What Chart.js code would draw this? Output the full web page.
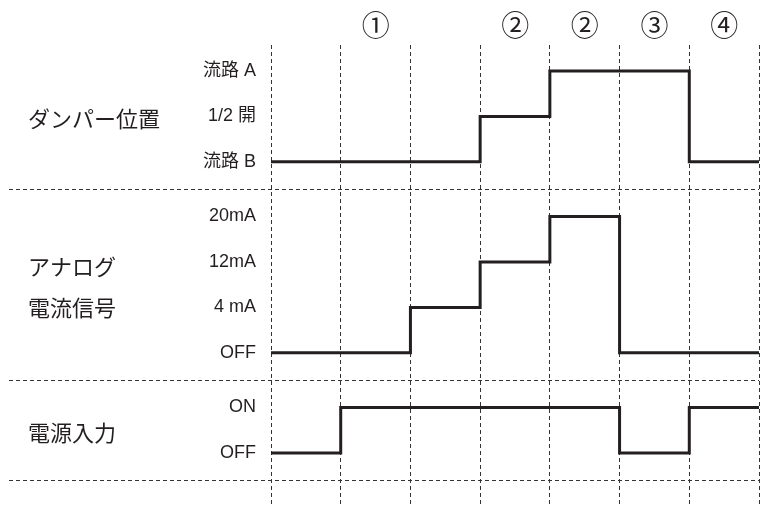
<!DOCTYPE html>
<html>
<head>
<meta charset="utf-8">
<script src="https://cdn.jsdelivr.net/npm/chart.js@4.4.1/dist/chart.umd.min.js"></script>
<style>
  html, body { margin: 0; padding: 0; background: #fff; }
  .chart-container { width: 760px; height: 507px; position: relative; }
</style>
</head>
<body>
<div class="chart-container"><canvas id="timing"></canvas></div>
<script>
// phase markers over the 7 time slots
const phaseLabels = ['', '①', '', '②', '②', '③', '④'];

// level names, bottom to top
const damperTicks = ['流路 B', '1/2 開', '流路 A'];
const currentTicks = ['OFF', '4 mA', '12mA', '20mA'];
const powerTicks = ['OFF', 'ON'];

// level index held in each time slot
const damperLevels = [0, 0, 0, 1, 2, 2, 0];
const currentLevels = [0, 0, 1, 2, 3, 0, 0];
const powerLevels = [0, 1, 1, 1, 1, 0, 1];

const rowTitles = [['ダンパー位置'], ['アナログ', '電流信号'], ['電源入力']];

// layout: where each row sits on the shared y scale
const rows = [
  { title: rowTitles[0], ticks: damperTicks, levels: damperLevels, base: 6.4 },
  { title: rowTitles[1], ticks: currentTicks, levels: currentLevels, base: 2.2 },
  { title: rowTitles[2], ticks: powerTicks, levels: powerLevels, base: 0 },
];

const FONT = '"Liberation Sans", "Noto Sans CJK JP", sans-serif';
const INK = '#231f20';

const tickValues = [];
const tickTexts = [];
rows.forEach(r => r.ticks.forEach((t, i) => {
  tickValues.push(r.base + i);
  tickTexts.push(t);
}));

const datasets = rows.map(r => {
  const pts = r.levels.map((l, i) => ({ x: i, y: r.base + l }));
  pts.push({ x: r.levels.length, y: r.base + r.levels[r.levels.length - 1] });
  return {
    data: pts,
    stepped: 'before',
    borderColor: INK,
    borderWidth: 3,
    borderJoinStyle: 'miter',
    pointRadius: 0,
    fill: false
  };
});

const rowDecor = {
  id: 'rowDecor',
  beforeDatasetsDraw(chart) {
    const { ctx, scales: { x, y } } = chart;
    ctx.save();
    ctx.strokeStyle = '#333';
    ctx.lineWidth = 1;
    ctx.setLineDash([4, 3]);
    rows.forEach(r => {
      const py = Math.round(y.getPixelForValue(r.base - 0.6)) + 0.5;
      ctx.beginPath();
      ctx.moveTo(9, py);
      ctx.lineTo(x.right, py);
      ctx.stroke();
    });
    ctx.setLineDash([]);
    ctx.fillStyle = INK;
    ctx.font = '22px ' + FONT;
    ctx.textBaseline = 'middle';
    ctx.textAlign = 'left';
    rows.forEach(r => {
      const mid = y.getPixelForValue(r.base + (r.ticks.length - 1) / 2) + 5;
      r.title.forEach((t, j) => {
        ctx.fillText(t, 28, mid + (j - (r.title.length - 1) / 2) * 41);
      });
    });
    ctx.restore();
  }
};

new Chart(document.getElementById('timing').getContext('2d'), {
  type: 'line',
  data: { datasets },
  plugins: [rowDecor],
  options: {
    responsive: true,
    maintainAspectRatio: false,
    animation: false,
    events: [],
    layout: { padding: { left: 0, right: 1, top: 0, bottom: 0 } },
    plugins: { legend: { display: false }, tooltip: { enabled: false } },
    scales: {
      x: {
        type: 'linear',
        position: 'top',
        min: 0,
        max: 7,
        afterBuildTicks: scale => {
          scale.ticks = [0, 1, 2, 3, 4, 5, 6, 7].map(v => ({ value: v }));
        },
        afterFit: scale => {
          scale.height = 45;
          scale.paddingLeft = 0;
          scale.paddingRight = 0;
        },
        grid: { color: '#333', lineWidth: 1, drawTicks: false },
        border: { display: false, dash: [4, 3] },
        ticks: {
          autoSkip: false,
          maxRotation: 0,
          labelOffset: 35,
          padding: 0,
          color: INK,
          font: { family: FONT, size: 28 },
          callback: (v, i) => phaseLabels[i] || ''
        }
      },
      y: {
        type: 'linear',
        min: -1.19,
        max: 8.97,
        afterBuildTicks: scale => {
          scale.ticks = tickValues.map(v => ({ value: v }));
        },
        afterFit: scale => {
          scale.width = 271;
          scale.paddingTop = 0;
          scale.paddingBottom = 0;
        },
        grid: { display: false },
        border: { display: false },
        ticks: {
          autoSkip: false,
          padding: 7,
          color: INK,
          font: { family: FONT, size: 18 },
          callback: (v, i) => tickTexts[i]
        }
      }
    }
  }
});
</script>
</body>
</html>
